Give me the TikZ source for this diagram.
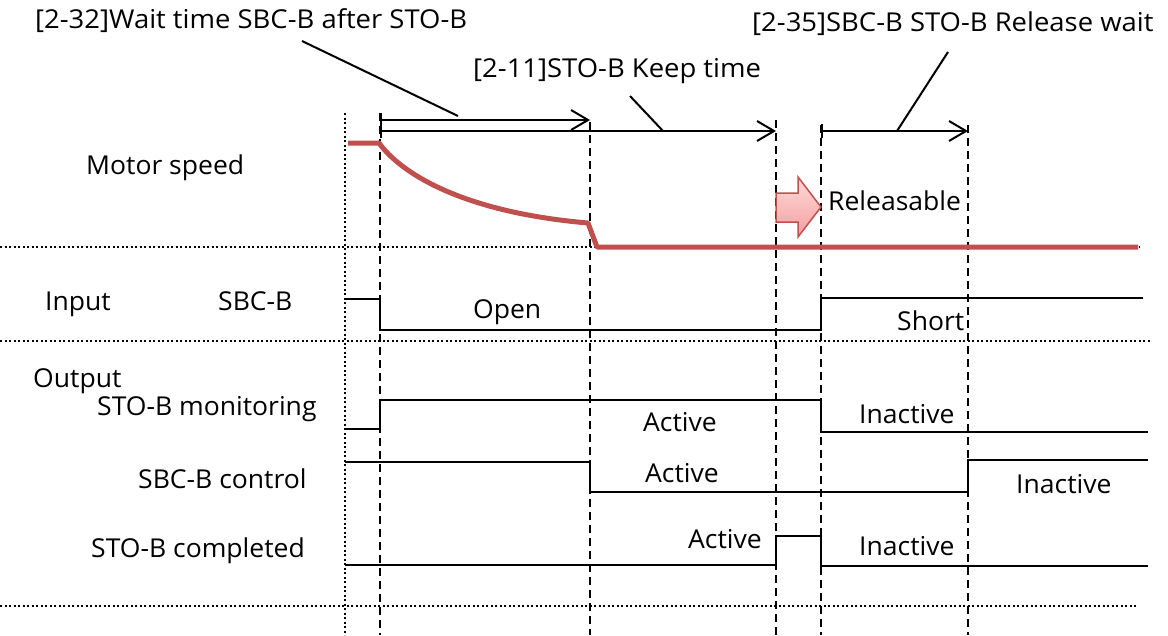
\documentclass[tikz,border=0pt]{standalone}
\usepackage{fontspec}
\setmainfont{Open Sans}[FakeStretch=1.02]
\newfontfamily\widefont{Open Sans}[FakeStretch=1.055]
\usetikzlibrary{arrows.meta}
\definecolor{speedred}{HTML}{C0504D}
\definecolor{pinkTop}{RGB}{255,218,218}
\definecolor{pinkBot}{RGB}{244,158,158}
\begin{document}
\begin{tikzpicture}[x=1pt,y=-1pt,
  lbl/.style={inner sep=0pt, anchor=base west, font=\fontsize{26}{30}\selectfont},
  plbl/.style={inner sep=0pt, anchor=base west, font=\widefont\fontsize{26}{30}\selectfont},
  sig/.style={line width=2pt, line join=miter},
  tline/.style={dash pattern=on 8pt off 5pt, line width=1.8pt},
  dotline/.style={dash pattern=on 2pt off 2.5pt, line width=2pt},
  span/.style={line width=2pt, {Bar[width=14pt,line width=2pt]}-{Straight Barb[length=17pt,width=20pt,line width=2pt]}},
  leader/.style={line width=2pt},
  speed/.style={line width=5pt, draw=speedred, line join=round}
]
\useasboundingbox (0,0) rectangle (1168,635);

% separators (dotted)
\coordinate (h1a) at (0,247);   \coordinate (h1b) at (1140,247);
\coordinate (h2a) at (0,341);   \coordinate (h2b) at (1150,341);
\coordinate (h3a) at (0,606);   \coordinate (h3b) at (1138,606);
\draw[dotline] (h1a) -- (h1b);
\draw[dotline] (h2a) -- (h2b);
\draw[dotline] (h3a) -- (h3b);

% time markers
\coordinate (v0a) at (345,113); \coordinate (v0b) at (345,635);
\coordinate (v1a) at (380,113); \coordinate (v1b) at (380,635);
\coordinate (v2a) at (590,122); \coordinate (v2b) at (590,635);
\coordinate (v3a) at (776,120); \coordinate (v3b) at (776,635);
\coordinate (v4a) at (821,125); \coordinate (v4b) at (821,635);
\coordinate (v5a) at (968,125); \coordinate (v5b) at (968,635);
\draw[dotline] (v0a) -- (v0b);
\draw[tline] (v1a) -- (v1b);
\draw[tline] (v2a) -- (v2b);
\draw[tline] (v3a) -- (v3b);
\draw[tline] (v4a) -- (v4b);
\draw[tline] (v5a) -- (v5b);

% time spans
\coordinate (s1a) at (380,120); \coordinate (s1b) at (590,120);
\coordinate (s2a) at (380,131); \coordinate (s2b) at (776,131);
\coordinate (s3a) at (821,131); \coordinate (s3b) at (968,131);
\draw[span] (s1a) -- (s1b);
\draw[span] (s2a) -- (s2b);
\draw[span] (s3a) -- (s3b);

% parameter labels
\node[plbl] (p32) at (35,28) {[2-32]Wait time SBC-B after STO-B};
\node[plbl] (p11) at (473,77) {[2-11]STO-B Keep time};
\node[plbl] (p35) at (752,31) {[2-35]SBC-B STO-B Release wait};
\coordinate (l32a) at (302,41); \coordinate (l32b) at (458,116);
\coordinate (l11a) at (630,96); \coordinate (l11b) at (663,131);
\coordinate (l35a) at (948,52); \coordinate (l35b) at (897,131);
\draw[leader] (l32a) -- (l32b);
\draw[leader] (l11a) -- (l11b);
\draw[leader] (l35a) -- (l35b);

% motor speed
\draw[speed] (348,143) -- (379,143) .. controls (400,172) and (460,212) .. (588,223) -- (597,247) -- (1138,247);

% releasable arrow
\shade[top color=pinkTop, bottom color=pinkBot, draw=speedred, line width=1.5pt, line join=miter]
  (776,193) -- (798,193) -- (798,177) -- (821,207) -- (798,237) -- (798,222) -- (776,222) -- cycle;
\node[lbl] (rel) at (828,210) {Releasable};

% row labels
\node[lbl] (ms) at (86,174) {Motor speed};
\node[lbl] (inp) at (45,310) {Input};
\node[lbl] (sbcb) at (218,310) {SBC-B};
\node[lbl] (outp) at (33,387) {Output};
\node[lbl] (mon) at (97,415) {STO-B monitoring};
\node[lbl] (ctl) at (138,488) {SBC-B control};
\node[lbl] (cmp) at (91,557) {STO-B completed};

% signals
\draw[sig] (345,299) -- (380,299) -- (380,330) -- (821,330) -- (821,298) -- (1143,298);
\draw[sig] (345,429) -- (380,429) -- (380,400) -- (821,400) -- (821,432) -- (1148,432);
\draw[sig] (345,462) -- (590,462) -- (590,492) -- (968,492) -- (968,460) -- (1148,460);
\draw[sig] (345,565) -- (776,565) -- (776,536) -- (821,536) -- (821,566) -- (1148,566);

% state labels
\node[lbl] (open) at (473,318) {Open};
\node[lbl] (short) at (897,330) {Short};
\node[lbl] (act1) at (643,431) {Active};
\node[lbl] (inact1) at (859,423) {Inactive};
\node[lbl] (act2) at (645,482) {Active};
\node[lbl] (inact2) at (1016,493) {Inactive};
\node[lbl] (act3) at (688,548) {Active};
\node[lbl] (inact3) at (859,555) {Inactive};
\end{tikzpicture}
\end{document}
